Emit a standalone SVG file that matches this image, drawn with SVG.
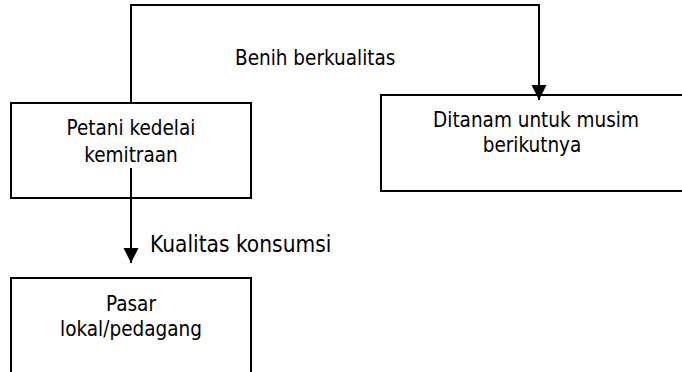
<svg xmlns="http://www.w3.org/2000/svg" width="682" height="372" viewBox="0 0 682 372">
  <style>
    .box { fill: #ffffff; stroke: #000000; stroke-width: 2; }
    .edge { fill: none; stroke: #000000; stroke-width: 2; }
    text { font-family: "DejaVu Sans Condensed", "DejaVu Sans", sans-serif; font-stretch: condensed; fill: #000000; }
    .lbl { font-size: 20.5px; text-anchor: middle; }
    .elbl { font-size: 20.5px; }
    .big { font-size: 22.5px; }
  </style>
  <defs>
    <marker id="arrow" markerUnits="userSpaceOnUse" markerWidth="16" markerHeight="16" refX="15" refY="7.5" orient="auto">
      <path d="M0,0 L15,7.5 L0,15 Z" fill="#000000"/>
    </marker>
  </defs>
  <rect width="682" height="372" fill="#ffffff"/>

  <g id="node-petani">
    <rect class="box" x="11" y="103" width="240" height="95"/>
    <text class="lbl" x="131" y="135">Petani kedelai</text>
    <text class="lbl" x="131" y="162">kemitraan</text>
  </g>

  <g id="node-ditanam">
    <rect class="box" x="381" y="95" width="304" height="96"/>
    <text class="lbl" x="536" y="127">Ditanam untuk musim</text>
    <text class="lbl" x="532" y="152">berikutnya</text>
  </g>

  <g id="node-pasar">
    <rect class="box" x="11" y="278" width="240" height="100"/>
    <text class="lbl" x="131" y="311">Pasar</text>
    <text class="lbl" x="131" y="336">lokal/pedagang</text>
  </g>

  <g id="connectors">
    <path class="edge" d="M131,103 V5 H539 V100" marker-end="url(#arrow)"/>
    <text class="elbl" x="235" y="65">Benih berkualitas</text>
    <path class="edge" d="M131,168 V263" marker-end="url(#arrow)"/>
    <text class="elbl big" x="150" y="252">Kualitas konsumsi</text>
  </g>
</svg>
